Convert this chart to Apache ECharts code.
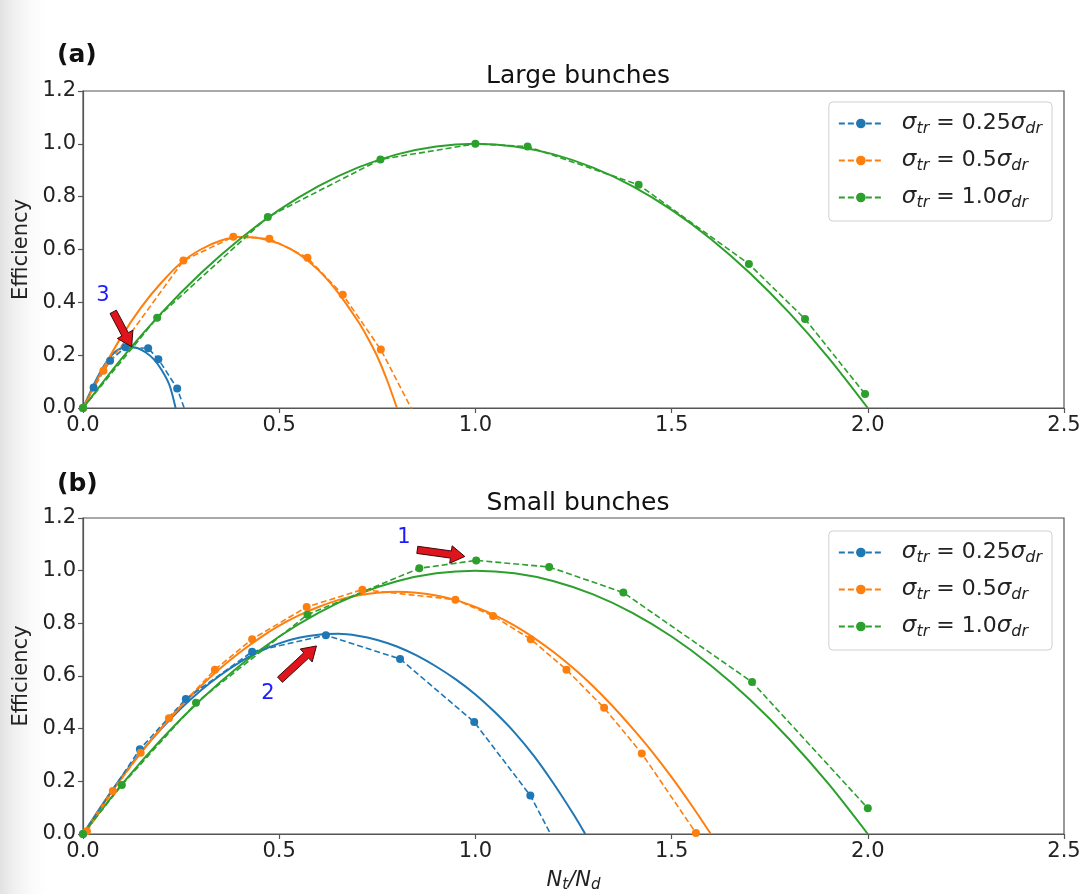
<!DOCTYPE html>
<html>
<head>
<meta charset="utf-8">
<script src="https://cdn.jsdelivr.net/npm/echarts@6/dist/echarts.min.js"></script>
<style>
  html, body { margin:0; padding:0; width:1084px; height:894px; overflow:hidden;
    background: linear-gradient(to right, #e2e2e2 0px, #f0f0f0 14px, #fbfbfb 32px, #ffffff 48px); }
  #chart { width:1084px; height:894px; }
</style>
</head>
<body>
<div id="chart"></div>
<script>
// ---------- data ----------
const xTicks = [0.0, 0.5, 1.0, 1.5, 2.0, 2.5];
const yTicks = [0.0, 0.2, 0.4, 0.6, 0.8, 1.0, 1.2];
const seriesNames = ['s025', 's05', 's10'];
const seriesLabels = ['0.25', '0.5', '1.0'];

// (a) Large bunches - dashed simulation points
const aDash025 = [[0,0],[0.027,0.078],[0.069,0.179],[0.108,0.230],[0.166,0.226],[0.192,0.185],[0.240,0.074],[0.270,-0.050]];
const aDash05  = [[0,0],[0.052,0.141],[0.256,0.558],[0.383,0.648],[0.475,0.641],[0.572,0.569],[0.662,0.429],[0.759,0.221],[0.850,-0.040]];
const aDash10  = [[0,0],[0.189,0.342],[0.471,0.723],[0.758,0.941],[1.000,1.000],[1.133,0.990],[1.416,0.845],[1.697,0.545],[1.840,0.337],[1.993,0.053]];
// (a) solid theory curves
const aSol025 = [[0,0],[0.02,0.065],[0.04,0.125],[0.06,0.175],[0.08,0.21],[0.10,0.228],[0.12,0.232],[0.14,0.226],[0.16,0.21],[0.18,0.185],[0.20,0.145],[0.22,0.088],[0.236,0]];
const aSol05  = [[0,0],[0.05,0.145],[0.1,0.275],[0.15,0.385],[0.2,0.475],[0.25,0.55],[0.3,0.6],[0.35,0.633],[0.4,0.647],[0.45,0.643],[0.5,0.622],[0.55,0.583],[0.6,0.522],[0.65,0.437],[0.7,0.33],[0.725,0.267],[0.75,0.195],[0.775,0.105],[0.8,0]];
const aSol10  = [[0,0],[0.1,0.19],[0.2,0.36],[0.3,0.51],[0.4,0.64],[0.5,0.75],[0.6,0.84],[0.7,0.91],[0.8,0.96],[0.9,0.99],[1.0,1.0],[1.1,0.99],[1.2,0.96],[1.3,0.91],[1.4,0.84],[1.5,0.75],[1.6,0.64],[1.7,0.51],[1.8,0.36],[1.9,0.19],[2.0,0]];

// (b) Small bunches - dashed simulation points
const bDash025 = [[0,0],[0.145,0.322],[0.262,0.513],[0.431,0.692],[0.619,0.755],[0.808,0.665],[0.997,0.425],[1.140,0.146],[1.220,-0.080]];
const bDash05  = [[0.01,0.01],[0.076,0.163],[0.147,0.309],[0.219,0.44],[0.336,0.624],[0.431,0.74],[0.570,0.862],[0.712,0.928],[0.949,0.890],[1.045,0.828],[1.141,0.740],[1.232,0.624],[1.328,0.479],[1.424,0.306],[1.562,0.004]];
const bDash10  = [[0,0],[0.099,0.186],[0.288,0.498],[0.572,0.833],[0.857,1.009],[1.002,1.039],[1.188,1.014],[1.377,0.917],[1.705,0.577],[2.0,0.098]];
// (b) solid theory curves
const bSol025 = [[0,0],[0.05,0.114],[0.1,0.22],[0.15,0.315],[0.2,0.40],[0.25,0.477],[0.3,0.545],[0.35,0.603],[0.4,0.653],[0.45,0.693],[0.5,0.724],[0.55,0.745],[0.6,0.757],[0.65,0.76],[0.7,0.753],[0.75,0.737],[0.8,0.712],[0.85,0.678],[0.9,0.636],[0.95,0.587],[1.0,0.53],[1.05,0.462],[1.1,0.385],[1.15,0.295],[1.2,0.19],[1.25,0.075],[1.28,0]];
const bSol05  = [[0,0],[0.05,0.111],[0.1,0.216],[0.15,0.313],[0.2,0.402],[0.25,0.485],[0.3,0.561],[0.35,0.629],[0.4,0.69],[0.45,0.744],[0.5,0.791],[0.55,0.83],[0.6,0.862],[0.65,0.888],[0.7,0.906],[0.75,0.916],[0.8,0.92],[0.85,0.916],[0.9,0.906],[0.95,0.888],[1.0,0.862],[1.05,0.83],[1.1,0.791],[1.15,0.744],[1.2,0.69],[1.25,0.629],[1.3,0.561],[1.35,0.485],[1.4,0.402],[1.45,0.313],[1.5,0.216],[1.55,0.111],[1.6,0]];
const bSol10  = [[0,0],[0.1,0.19],[0.2,0.36],[0.3,0.51],[0.4,0.64],[0.5,0.75],[0.6,0.84],[0.7,0.91],[0.8,0.96],[0.9,0.99],[1.0,1.0],[1.1,0.99],[1.2,0.96],[1.3,0.91],[1.4,0.84],[1.5,0.75],[1.6,0.64],[1.7,0.51],[1.8,0.36],[1.9,0.19],[2.0,0]];

// annotations: [label, gridIndex, labelPos, arrowTail, arrowTip]
const annotations = [
  ['3', 0, [0.051, 0.424], [0.077, 0.364], [0.124, 0.232]],
  ['1', 1, [0.818, 1.125], [0.852, 1.079], [0.973, 1.054]],
  ['2', 1, [0.471, 0.532], [0.502, 0.586], [0.595, 0.714]]
];

// ---------- styling ----------
const colors = ['#1f77b4', '#ff7f0e', '#2ca02c'];
const FONT = 'DejaVu Sans';
const axisColor = '#555';

const chart = echarts.init(document.getElementById('chart'), null, {renderer: 'canvas'});

const grids = [
  {left: 83, top: 91, width: 981, height: 317},
  {left: 83, top: 518, width: 981, height: 318}
];

function xAxisCfg(gi) {
  const c = {
    type: 'value', gridIndex: gi, min: xTicks[0], max: xTicks[xTicks.length-1], interval: 0.5,
    axisLine: {show: true, onZero: false, lineStyle: {color: axisColor, width: 1.2}},
    axisTick: {show: true, length: 5, lineStyle: {color: axisColor, width: 1.2}},
    axisLabel: {formatter: v => v.toFixed(1), fontSize: 21, color: '#222', fontFamily: FONT, margin: 7},
    splitLine: {show: false}
  };
  if (gi === 1) {
    c.name = '{i|N}{s|t}{i|/N}{s|d}';
    c.nameLocation = 'middle';
    c.nameGap = 34;
    c.nameTextStyle = {
      rich: {
        i: {fontSize: 21, fontStyle: 'italic', fontFamily: FONT, color: '#222'},
        s: {fontSize: 15, fontStyle: 'italic', fontFamily: FONT, color: '#222', padding: [10, 0, 0, 0]}
      }
    };
  }
  return c;
}
function yAxisCfg(gi) {
  return {
    type: 'value', gridIndex: gi, min: yTicks[0], max: yTicks[yTicks.length-1], interval: 0.2,
    name: 'Efficiency', nameLocation: 'middle', nameGap: 49, nameRotate: 90,
    nameTextStyle: {fontSize: 21, color: '#222', fontFamily: FONT},
    axisLine: {show: true, onZero: false, lineStyle: {color: axisColor, width: 1.2}},
    axisTick: {show: true, length: 5, lineStyle: {color: axisColor, width: 1.2}},
    axisLabel: {formatter: v => v.toFixed(1), fontSize: 21, color: '#222', fontFamily: FONT, margin: 7},
    splitLine: {show: false}
  };
}

function dashSeries(name, gi, data, ci) {
  return {
    name: name, type: 'line', xAxisIndex: gi, yAxisIndex: gi, data: data,
    symbol: 'circle', symbolSize: 8, showSymbol: true, clip: true,
    lineStyle: {color: colors[ci], width: 1.6, type: [6, 3]},
    itemStyle: {color: colors[ci]},
    z: 3, animation: false
  };
}
function solidSeries(gi, data, ci) {
  return {
    name: 'theory' + ci + '_' + gi, type: 'line', xAxisIndex: gi, yAxisIndex: gi, data: data,
    symbol: 'none', smooth: 0.3, clip: true,
    lineStyle: {color: colors[ci], width: 2},
    z: 2, animation: false
  };
}

const legendRich = {
  i: {fontSize: 23, fontStyle: 'italic', fontFamily: FONT, color: '#222'},
  s: {fontSize: 16, fontStyle: 'italic', fontFamily: FONT, color: '#222', padding: [11, 0, 0, 0]},
  n: {fontSize: 22, fontFamily: FONT, color: '#222'}
};
function legendFmt(name) {
  const idx = seriesNames.indexOf(name);
  return '{i|σ}{s|tr}{n| = ' + seriesLabels[idx] + '}{i|σ}{s|dr}';
}
function legendCfg(top) {
  return {
    data: seriesNames, orient: 'vertical', right: 32, top: top,
    backgroundColor: 'rgba(255,255,255,0.85)', borderColor: '#d0d0d0', borderWidth: 1, borderRadius: 4,
    padding: [10, 10, 10, 9], itemWidth: 44, itemHeight: 12, itemGap: 12,
    selectedMode: false,
    formatter: legendFmt,
    textStyle: {rich: legendRich, padding: [0, 0, 0, 14]}
  };
}

const option = {
  backgroundColor: 'transparent',
  animation: false,
  textStyle: {fontFamily: FONT},
  title: [
    {text: '(a)', left: 52, top: 38, textStyle: {fontSize: 25, fontWeight: 'bold', color: '#111', fontFamily: FONT}},
    {text: 'Large bunches', left: 573, top: 59, textAlign: 'center', textStyle: {fontSize: 25, fontWeight: 'normal', color: '#111', fontFamily: FONT}},
    {text: '(b)', left: 52, top: 467, textStyle: {fontSize: 25, fontWeight: 'bold', color: '#111', fontFamily: FONT}},
    {text: 'Small bunches', left: 573, top: 486, textAlign: 'center', textStyle: {fontSize: 25, fontWeight: 'normal', color: '#111', fontFamily: FONT}}
  ],
  grid: grids.map(g => Object.assign({show: true, borderColor: axisColor, borderWidth: 1.2, backgroundColor: '#fff'}, g)),
  xAxis: [xAxisCfg(0), xAxisCfg(1)],
  yAxis: [yAxisCfg(0), yAxisCfg(1)],
  legend: [legendCfg(102), legendCfg(531)],
  series: [
    dashSeries('s025', 0, aDash025, 0), solidSeries(0, aSol025, 0),
    dashSeries('s05', 0, aDash05, 1), solidSeries(0, aSol05, 1),
    dashSeries('s10', 0, aDash10, 2), solidSeries(0, aSol10, 2),
    dashSeries('s025', 1, bDash025, 0), solidSeries(1, bSol025, 0),
    dashSeries('s05', 1, bDash05, 1), solidSeries(1, bSol05, 1),
    dashSeries('s10', 1, bDash10, 2), solidSeries(1, bSol10, 2)
  ]
};
chart.setOption(option);

// ---------- annotation arrows (positioned via data coordinates) ----------
function arrowPoly(T, P) {
  const dx = P[0] - T[0], dy = P[1] - T[1];
  const L = Math.sqrt(dx*dx + dy*dy);
  const ux = dx / L, uy = dy / L, nx = -uy, ny = ux;
  const w = 3.6, hw = 8.8, hl = 14;
  const B = [P[0] - ux*hl, P[1] - uy*hl];
  return [
    [T[0] + nx*w, T[1] + ny*w], [B[0] + nx*w, B[1] + ny*w], [B[0] + nx*hw, B[1] + ny*hw],
    [P[0], P[1]],
    [B[0] - nx*hw, B[1] - ny*hw], [B[0] - nx*w, B[1] - ny*w], [T[0] - nx*w, T[1] - ny*w]
  ];
}
const graphics = [];
annotations.forEach(a => {
  const gi = a[1];
  const lp = chart.convertToPixel({gridIndex: gi}, a[2]);
  const tp = chart.convertToPixel({gridIndex: gi}, a[3]);
  const hp = chart.convertToPixel({gridIndex: gi}, a[4]);
  graphics.push({
    type: 'polygon', z: 100,
    shape: {points: arrowPoly(tp, hp)},
    style: {fill: '#e0141c', stroke: '#3a0a0a', lineWidth: 1}
  });
  graphics.push({
    type: 'text', z: 100, x: lp[0], y: lp[1],
    style: {text: a[0], fill: '#1a1aff', font: '21px "DejaVu Sans"', textAlign: 'center', textVerticalAlign: 'middle'}
  });
});
chart.setOption({graphic: graphics});
</script>
</body>
</html>
